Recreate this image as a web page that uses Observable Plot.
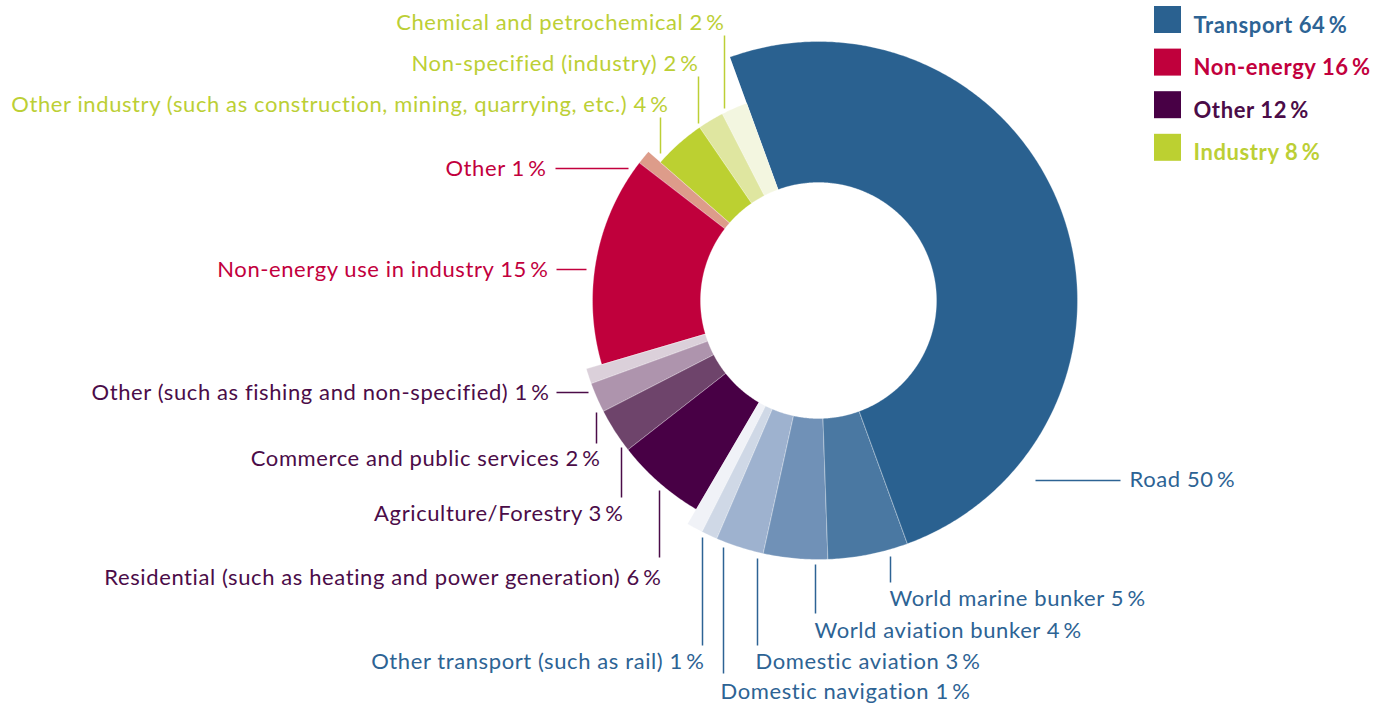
<!DOCTYPE html>
<html>
<head>
<meta charset="utf-8">
<script src="https://cdn.jsdelivr.net/npm/d3@7"></script>
<script src="https://cdn.jsdelivr.net/npm/@observablehq/plot@0.6"></script>
<style>
  html, body { margin: 0; padding: 0; background: #fff; }
  #chart { width: 1383px; height: 706px; }
  #chart svg text { letter-spacing: 0.6px; }
</style>
</head>
<body>
<div id="chart"></div>
<script>
// Oil consumption by sector, shares in percent
const groupNames = ["Transport", "Non-energy", "Other", "Industry"];
const groupValues = [64, 16, 12, 8];

// Slices in clockwise order, starting with Road
const sliceNames = [
  "Road",
  "World marine bunker",
  "World aviation bunker",
  "Domestic aviation",
  "Domestic navigation",
  "Other transport (such as rail)",
  "Residential (such as heating and power generation)",
  "Agriculture/Forestry",
  "Commerce and public services",
  "Other (such as fishing and non-specified)",
  "Non-energy use in industry",
  "Other",
  "Other industry (such as construction, mining, quarrying, etc.)",
  "Non-specified (industry)",
  "Chemical and petrochemical"
];
const sliceGroups = [
  "Transport", "Transport", "Transport", "Transport", "Transport", "Transport",
  "Other", "Other", "Other", "Other",
  "Non-energy", "Non-energy",
  "Industry", "Industry", "Industry"
];
const sliceValues = [50, 5, 4, 3, 1, 1, 6, 3, 2, 1, 15, 1, 4, 2, 2];

// ---- styling -------------------------------------------------------------
const sliceColors = [
  "#2a6190", "#4a78a2", "#7091b7", "#9eb2cf", "#cfd8e6", "#f0f2f7",
  "#480045", "#6e446b", "#ae94ad", "#dbd0da",
  "#c0003c", "#dd9c8a",
  "#bcd031", "#dfe6a0", "#f3f6e0"
];
const groupColors = { "Transport": "#2a6190", "Non-energy": "#c0003c", "Other": "#480045", "Industry": "#bcd031" };
const textColors = { "Transport": "#2d6394", "Non-energy": "#c2003d", "Other": "#4b0c48", "Industry": "#bccf35" };
const outerRadius = { "Transport": 259, "Other": 242, "Non-energy": 226, "Industry": 210 };
const innerRadius = 118;
const startAngle = -20;            // degrees, clockwise from 12 o'clock
const W = 1383, H = 706;
const cx = 818, cy = 300;          // donut centre in the page
const font = "Lato, 'Open Sans', sans-serif";
const fontSize = 22;

// label placement relative to the donut centre: text anchor point and leader segment
const labelLayout = [
  { anchor: "start", x: 311, y: 179, leader: [217, 180, 302, 180] },   // Road
  { anchor: "start", x: 71,  y: 298, leader: [72, 256, 72, 282] },     // World marine bunker
  { anchor: "start", x: -4,  y: 330, leader: [-3, 264, -3, 313] },     // World aviation bunker
  { anchor: "start", x: -63, y: 361, leader: [-61, 258, -61, 345] },   // Domestic aviation
  { anchor: "start", x: -98, y: 391, leader: [-95, 247, -95, 373] },   // Domestic navigation
  { anchor: "end",   x: -114, y: 361, leader: [-116, 237, -116, 345] },// Other transport
  { anchor: "end",   x: -157, y: 277, leader: [-159, 190, -159, 257] },// Residential
  { anchor: "end",   x: -195, y: 213, leader: [-197, 147, -197, 197] },// Agriculture/Forestry
  { anchor: "end",   x: -218, y: 158, leader: [-222, 112, -222, 143] },// Commerce
  { anchor: "end",   x: -269, y: 92,  leader: [-262, 92, -230, 92] },  // Other (fishing)
  { anchor: "end",   x: -270, y: -31, leader: [-262, -31, -232, -31] },// Non-energy use
  { anchor: "end",   x: -272, y: -132, leader: [-263, -132, -190, -132] }, // Other (non-energy)
  { anchor: "end",   x: -150, y: -196, leader: [-158, -183, -158, -147] }, // Other industry
  { anchor: "end",   x: -120, y: -237, leader: [-120, -224, -120, -177] }, // Non-specified
  { anchor: "end",   x: -94,  y: -278, leader: [-94, -265, -94, -192] }    // Chemical
];

// legend placement relative to the donut centre
const legendLeft = 336, legendSize = 27, legendTop = -294, legendStep = 42.6, legendTextX = 375, legendTextDy = 19;

// ---- geometry ------------------------------------------------------------
const pct = v => `${v}\u2009%`;
const rad = a => a * Math.PI / 180;

let acc = startAngle;
const slices = sliceNames.map((name, i) => {
  const a0 = acc, a1 = acc + sliceValues[i] * 3.6;
  acc = a1;
  const group = sliceGroups[i];
  return { id: i, name, group, value: sliceValues[i], a0, a1, r0: innerRadius, r1: outerRadius[group], color: sliceColors[i] };
});

const arcPoints = slices.flatMap(s => {
  const n = Math.max(2, Math.ceil((s.a1 - s.a0) / 0.5));
  const pts = [];
  for (let k = 0; k <= n; k++) {
    const a = rad(s.a0 + (s.a1 - s.a0) * k / n);
    pts.push({ id: s.id, color: s.color, x: s.r1 * Math.sin(a), y: -s.r1 * Math.cos(a) });
  }
  for (let k = n; k >= 0; k--) {
    const a = rad(s.a0 + (s.a1 - s.a0) * k / n);
    pts.push({ id: s.id, color: s.color, x: s.r0 * Math.sin(a), y: -s.r0 * Math.cos(a) });
  }
  return pts;
});

const labels = slices.map((s, i) => ({
  text: `${s.name} ${pct(s.value)}`,
  color: textColors[s.group],
  anchor: labelLayout[i].anchor,
  x: labelLayout[i].x, y: labelLayout[i].y,
  x1: labelLayout[i].leader[0], y1: labelLayout[i].leader[1],
  x2: labelLayout[i].leader[2], y2: labelLayout[i].leader[3]
}));

const legend = groupNames.map((g, i) => ({
  text: `${g} ${pct(groupValues[i])}`,
  color: groupColors[g],
  textColor: textColors[g],
  x1: legendLeft, x2: legendLeft + legendSize,
  y1: legendTop + i * legendStep, y2: legendTop + i * legendStep + legendSize,
  ty: legendTop + i * legendStep + legendTextDy
}));

const chart = Plot.plot({
  width: W, height: H,
  margin: 0,
  x: { domain: [-cx, W - cx], range: [0, W], axis: null },
  y: { domain: [-cy, H - cy], range: [0, H], axis: null },
  color: { type: "identity" },
  style: { fontFamily: font, background: "#fff" },
  marks: [
    Plot.line(arcPoints, { x: "x", y: "y", z: "id", fill: "color", stroke: "#ffffff", strokeWidth: 0.5, strokeOpacity: 0.6, curve: "linear-closed" }),
    Plot.link(labels, { x1: "x1", y1: "y1", x2: "x2", y2: "y2", stroke: "color", strokeWidth: 1.5 }),
    Plot.text(labels.filter(d => d.anchor === "end"), { x: "x", y: "y", text: "text", fill: "color", textAnchor: "end", fontSize, fontFamily: font }),
    Plot.text(labels.filter(d => d.anchor === "start"), { x: "x", y: "y", text: "text", fill: "color", textAnchor: "start", fontSize, fontFamily: font }),
    Plot.rect(legend, { x1: "x1", x2: "x2", y1: "y1", y2: "y2", fill: "color" }),
    Plot.text(legend, { x: legendTextX, y: "ty", text: "text", fill: "textColor", textAnchor: "start", fontSize, fontWeight: "bold", fontFamily: font })
  ]
});

document.getElementById("chart").append(chart);
</script>
</body>
</html>
